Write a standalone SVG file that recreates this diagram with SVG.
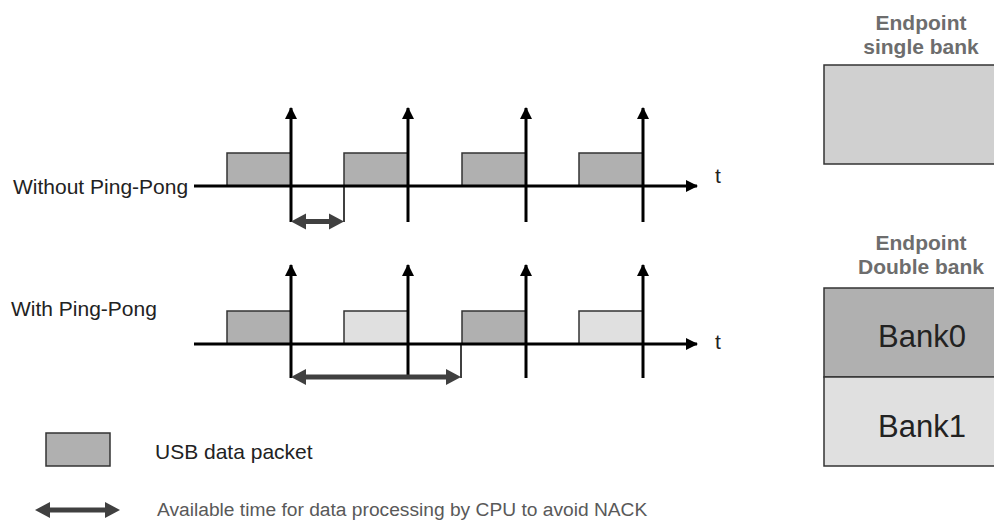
<svg xmlns="http://www.w3.org/2000/svg" width="994" height="523" viewBox="0 0 994 523">
<defs>
<marker id="ah" viewBox="0 0 12 12" refX="11" refY="6" markerWidth="12" markerHeight="12" markerUnits="userSpaceOnUse" orient="auto">
<path d="M0,0 L12,6 L0,12 Z" fill="#000"/>
</marker>
</defs>
<style>
.lbl{font-family:"Liberation Sans",Arial,sans-serif;font-size:21px;fill:#222}
.gl{font-family:"Liberation Sans",Arial,sans-serif;font-size:19.2px;fill:#595959}
.ep{font-family:"Liberation Sans",Arial,sans-serif;font-size:21px;font-weight:bold;fill:#6d6d6d;text-anchor:middle}
.bk{font-family:"Liberation Sans",Arial,sans-serif;font-size:31px;fill:#222;text-anchor:middle}
.axis{stroke:#000;stroke-width:3;fill:none}
.tick{stroke:#000;stroke-width:3;fill:none}
.thin{stroke:#000;stroke-width:1.5;fill:none}
.pd{fill:#b0b0b0;stroke:#333;stroke-width:1.5}
.pl{fill:#e0e0e0;stroke:#333;stroke-width:1.5}
.dbl{fill:#404040}
.box{stroke:#333;stroke-width:1.5}
</style>
<rect width="994" height="523" fill="#fff"/>

<g id="row-without">
<text class="lbl" x="13" y="194">Without Ping-Pong</text>
<rect class="pd" x="227" y="153" width="64" height="33"/>
<rect class="pd" x="344" y="153" width="64" height="33"/>
<rect class="pd" x="462" y="153" width="64" height="33"/>
<rect class="pd" x="579" y="153" width="64" height="33"/>
<text class="lbl" x="715" y="183">t</text>
</g>

<g id="row-with">
<text class="lbl" x="11" y="316">With Ping-Pong</text>
<rect class="pd" x="227" y="311" width="64" height="33"/>
<rect class="pl" x="344" y="311" width="64" height="33"/>
<rect class="pd" x="462" y="311" width="64" height="33"/>
<rect class="pl" x="579" y="311" width="64" height="33"/>
<text class="lbl" x="715" y="349">t</text>
</g>

<g id="connectors">
<line class="axis" x1="194" y1="186" x2="697" y2="186" marker-end="url(#ah)"/>
<line class="tick" x1="291" y1="222" x2="291" y2="108" marker-end="url(#ah)"/>
<line class="tick" x1="408" y1="222" x2="408" y2="108" marker-end="url(#ah)"/>
<line class="tick" x1="526" y1="222" x2="526" y2="108" marker-end="url(#ah)"/>
<line class="tick" x1="643" y1="222" x2="643" y2="108" marker-end="url(#ah)"/>
<line class="thin" x1="344" y1="186" x2="344" y2="222"/>
<path class="dbl" d="M291,221.5 L306,213.5 L306,219 L329,219 L329,213.5 L344,221.5 L329,229.5 L329,224 L306,224 L306,229.5 Z"/>

<line class="axis" x1="194" y1="344" x2="697" y2="344" marker-end="url(#ah)"/>
<line class="tick" x1="291" y1="378" x2="291" y2="265" marker-end="url(#ah)"/>
<line class="tick" x1="408" y1="378" x2="408" y2="265" marker-end="url(#ah)"/>
<line class="tick" x1="526" y1="378" x2="526" y2="265" marker-end="url(#ah)"/>
<line class="tick" x1="643" y1="378" x2="643" y2="265" marker-end="url(#ah)"/>
<line class="thin" x1="461" y1="344" x2="461" y2="378"/>
<path class="dbl" d="M291,377 L306,369 L306,374.5 L446,374.5 L446,369 L461,377 L446,385 L446,379.5 L306,379.5 L306,385 Z"/>
</g>

<g id="legend-packet">
<rect class="pd" x="46" y="433" width="64" height="33"/>
<text class="lbl" x="155" y="459">USB data packet</text>
</g>

<g id="legend-time">
<path class="dbl" d="M35,510 L50,502 L50,507.5 L105,507.5 L105,502 L120,510 L105,518 L105,512.5 L50,512.5 L50,518 Z"/>
<text class="gl" x="157" y="516">Available time for data processing by CPU to avoid NACK</text>
</g>

<g id="endpoint-single">
<text class="ep" x="921" y="30">Endpoint</text>
<text class="ep" x="921" y="54">single bank</text>
<rect class="box" x="824" y="65" width="180" height="99" fill="#d0d0d0"/>
</g>

<g id="endpoint-double">
<text class="ep" x="921" y="250">Endpoint</text>
<text class="ep" x="921" y="274">Double bank</text>
<rect class="box" x="824" y="288" width="180" height="89" fill="#b0b0b0"/>
<rect class="box" x="824" y="377" width="180" height="89" fill="#e0e0e0"/>
<text class="bk" x="922" y="347">Bank0</text>
<text class="bk" x="922" y="437">Bank1</text>
</g>
</svg>
